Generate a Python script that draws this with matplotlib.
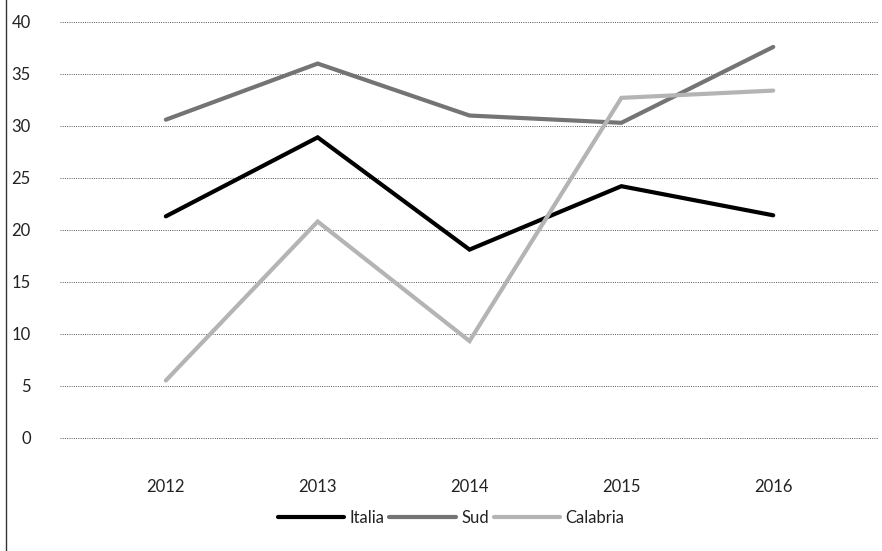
import numpy as np
import matplotlib.pyplot as plt
from matplotlib.lines import Line2D

# dati
anni = ['2012', '2013', '2014', '2015', '2016']
italia = [21.3, 28.9, 18.1, 24.2, 21.4]
sud = [30.6, 36.0, 31.0, 30.3, 37.6]
calabria = [5.5, 20.8, 9.3, 32.7, 33.4]

plt.rcParams['font.family'] = ['Lato', 'DejaVu Sans']

fig = plt.figure(figsize=(8.82, 5.51), dpi=100)
ax = fig.add_axes([60/882, 1 - 437.7/551, (878 - 60)/882, (437.7 - 22)/551])

x = np.arange(len(anni))
ax.plot(x, italia, color='#000000', lw=3, solid_capstyle='round',
        solid_joinstyle='miter', label='Italia', zorder=3)
ax.plot(x, sud, color='#747474', lw=3, solid_capstyle='round',
        solid_joinstyle='miter', label='Sud', zorder=3)
ax.plot(x, calabria, color='#b4b4b4', lw=3, solid_capstyle='round',
        solid_joinstyle='miter', label='Calabria', zorder=3)

ax.set_xlim(-0.697, 4.69)
ax.set_ylim(0, 40)
ax.set_yticks(np.arange(0, 41, 5))
ax.set_xticks(x)
ax.set_xticklabels(anni)

ax.yaxis.grid(True, color='#555555', lw=0.7, linestyle=(0, (1, 1.3)))
for gl in ax.get_ygridlines():
    gl.set_clip_on(False)
ax.set_axisbelow(True)
for s in ax.spines.values():
    s.set_visible(False)
ax.tick_params(axis='both', length=0, labelsize=12, colors='#222222')
ax.tick_params(axis='y', pad=21)
ax.tick_params(axis='x', pad=30)

fig.legend(loc='center', bbox_to_anchor=(451/882, 1 - 518/551), ncol=3,
           frameon=False, fontsize=12, handlelength=4.0, handletextpad=0.3,
           columnspacing=0.3, labelcolor='#222222')

# bordo a sinistra
fig.add_artist(Line2D([5.5/882, 5.5/882], [0, 1], transform=fig.transFigure,
                      color='#333333', lw=1))

fig.savefig('out.png', dpi=100)
